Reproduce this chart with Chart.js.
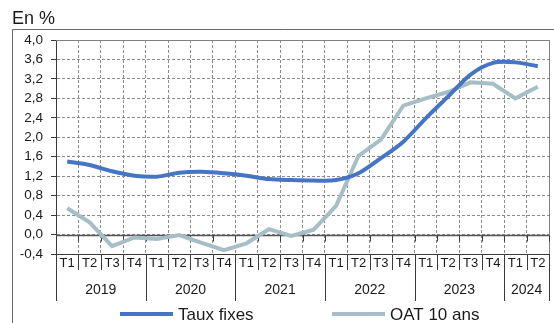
<!DOCTYPE html>
<html>
<head>
<meta charset="utf-8">
<script src="https://cdn.jsdelivr.net/npm/chart.js@4/dist/chart.umd.min.js"></script>
<style>
  html, body { margin: 0; padding: 0; background: #fff; }
  canvas { display: block; }
</style>
</head>
<body>
<canvas id="chart" width="554" height="323"></canvas>
<script>
// Quarterly categories, 2019 T1 to 2024 T2
const quarters = ['T1','T2','T3','T4','T1','T2','T3','T4','T1','T2','T3','T4',
                  'T1','T2','T3','T4','T1','T2','T3','T4','T1','T2'];
const years = ['2019','2020','2021','2022','2023','2024'];

// Rates, in %
const tauxFixes = [1.50, 1.43, 1.30, 1.21, 1.19, 1.27, 1.29, 1.26, 1.21, 1.14, 1.12,
                   1.11, 1.12, 1.26, 1.57, 1.91, 2.39, 2.84, 3.29, 3.53, 3.54, 3.46];
const oat10 = [0.54, 0.25, -0.24, -0.06, -0.09, -0.01, -0.17, -0.32, -0.18, 0.11, -0.03,
               0.10, 0.59, 1.62, 1.95, 2.65, 2.80, 2.93, 3.13, 3.10, 2.80, 3.04];

const seriesNames = ['Taux fixes', 'OAT 10 ans'];
const unitLabel = 'En %';

const FONT = '"Liberation Sans", Arial, sans-serif';
const DARK = '#3a3a3a';

// Number of quarters shown for each year (a year starts at each T1)
function yearSpans() {
  const spans = [];
  quarters.forEach(q => {
    if (q === 'T1' || spans.length === 0) spans.push(0);
    spans[spans.length - 1]++;
  });
  return spans;
}

const decor = {
  id: 'decor',
  beforeDatasetsDraw(chart) {
    const { ctx, chartArea: a, scales: { x, y } } = chart;
    const step = x.getPixelForValue(1) - x.getPixelForValue(0);
    const edge = k => x.getPixelForValue(0) - step / 2 + k * step;
    ctx.save();
    ctx.lineWidth = 1;

    // plot area border, top and right
    ctx.strokeStyle = '#808080';
    ctx.beginPath();
    ctx.moveTo(a.left, Math.round(a.top) + 0.5);
    ctx.lineTo(Math.round(a.right) + 0.5, Math.round(a.top) + 0.5);
    ctx.lineTo(Math.round(a.right) + 0.5, a.bottom);
    ctx.stroke();

    // zero line with its tick marks
    const y0 = Math.round(y.getPixelForValue(0)) + 0.5;
    ctx.strokeStyle = '#555';
    ctx.lineWidth = 1.5;
    ctx.beginPath();
    ctx.moveTo(a.left, y0);
    ctx.lineTo(a.right, y0);
    ctx.stroke();
    ctx.lineWidth = 1;
    ctx.strokeStyle = DARK;
    ctx.beginPath();
    for (let k = 0; k <= quarters.length; k++) {
      const xx = Math.round(edge(k)) + 0.5;
      ctx.moveTo(xx, y0);
      ctx.lineTo(xx, y0 + 6);
    }
    ctx.stroke();

    // quarter separators below the axis
    const yb = a.bottom;
    ctx.beginPath();
    for (let k = 0; k <= quarters.length; k++) {
      const xx = Math.round(edge(k)) + 0.5;
      ctx.moveTo(xx, yb);
      ctx.lineTo(xx, yb + 16);
    }
    ctx.stroke();

    // year separators and year labels
    const spans = yearSpans();
    let k = 0;
    ctx.beginPath();
    ctx.moveTo(Math.round(edge(0)) + 0.5, yb);
    ctx.lineTo(Math.round(edge(0)) + 0.5, yb + 47);
    ctx.fillStyle = '#1a1a1a';
    ctx.font = '14px ' + FONT;
    ctx.textAlign = 'center';
    ctx.textBaseline = 'middle';
    spans.forEach((n, i) => {
      const x1 = edge(k), x2 = edge(k + n);
      ctx.fillText(years[i], (x1 + x2) / 2, yb + 36);
      ctx.moveTo(Math.round(x2) + 0.5, yb);
      ctx.lineTo(Math.round(x2) + 0.5, yb + 47);
      k += n;
    });
    ctx.stroke();
    ctx.restore();
  },
  afterDraw(chart) {
    const { ctx } = chart;
    ctx.save();
    // outer frame
    ctx.strokeStyle = '#6a6a6a';
    ctx.lineWidth = 1;
    ctx.beginPath();
    ctx.moveTo(12.5, chart.height);
    ctx.lineTo(12.5, 29.5);
    ctx.lineTo(chart.width, 29.5);
    ctx.stroke();

    // unit label
    ctx.fillStyle = '#1a1a1a';
    ctx.font = '18px ' + FONT;
    ctx.textAlign = 'left';
    ctx.textBaseline = 'alphabetic';
    ctx.fillText(unitLabel, 12, 24);

    // legend
    const items = [[120, 53], [332, 53]];
    ctx.font = '17px ' + FONT;
    ctx.textBaseline = 'middle';
    chart.data.datasets.forEach((ds, i) => {
      const [lx, lw] = items[i];
      const ly = 314;
      ctx.strokeStyle = ds.borderColor;
      ctx.lineWidth = 4;
      ctx.beginPath();
      ctx.moveTo(lx, ly);
      ctx.lineTo(lx + lw, ly);
      ctx.stroke();
      ctx.fillStyle = '#1a1a1a';
      ctx.fillText(ds.label, lx + lw + 5, ly + 1);
    });
    ctx.restore();
  }
};

new Chart(document.getElementById('chart'), {
  type: 'line',
  data: {
    labels: quarters,
    datasets: [
      {
        label: seriesNames[0],
        data: tauxFixes,
        borderColor: '#4575C4',
        borderWidth: 4,
        tension: 0.3,
        pointRadius: 0,
        fill: false
      },
      {
        label: seriesNames[1],
        data: oat10,
        borderColor: '#A6BEC6',
        borderWidth: 4,
        tension: 0,
        pointRadius: 0,
        fill: false
      }
    ]
  },
  options: {
    responsive: false,
    devicePixelRatio: 1,
    animation: false,
    layout: { padding: { top: 40, right: 5, left: 0, bottom: 0 } },
    plugins: { legend: { display: false }, tooltip: { enabled: false }, title: { display: false } },
    scales: {
      x: {
        offset: true,
        grid: {
          display: true,
          offset: true,
          drawOnChartArea: true,
          drawTicks: false,
          color: '#8c8c8c',
          lineWidth: 1
        },
        border: { display: true, color: DARK, width: 1, dash: [3, 2] },
        ticks: {
          autoSkip: false,
          maxRotation: 0,
          minRotation: 0,
          padding: 2,
          color: '#1a1a1a',
          font: { family: FONT, size: 13 }
        },
        afterFit(s) { s.height = 69; }
      },
      y: {
        min: -0.4,
        max: 4.0,
        grid: {
          color: '#8c8c8c',
          lineWidth: 1,
          drawTicks: true,
          tickLength: 5,
          tickColor: DARK,
          tickBorderDash: []
        },
        border: { display: true, color: DARK, width: 1, dash: [3, 2] },
        ticks: {
          stepSize: 0.4,
          padding: 8,
          color: '#1a1a1a',
          font: { family: FONT, size: 13.5 },
          callback: v => v.toFixed(1).replace('.', ',')
        },
        afterFit(s) { s.width = 56; }
      }
    }
  },
  plugins: [decor]
});
</script>
</body>
</html>
